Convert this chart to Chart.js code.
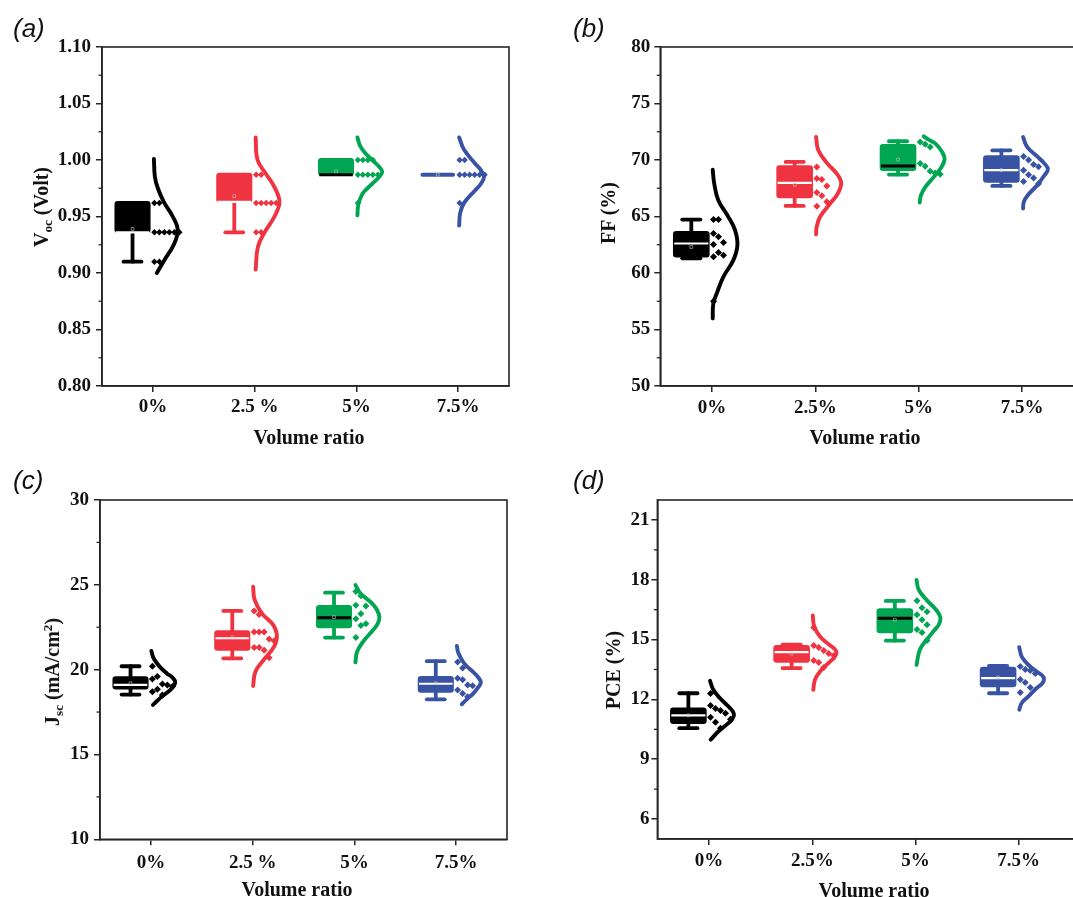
<!DOCTYPE html>
<html>
<head>
<meta charset="utf-8">
<script src="https://cdn.jsdelivr.net/npm/chart.js@4.4.1/dist/chart.umd.min.js"></script>
<style>
html,body{margin:0;padding:0;background:#fff;overflow:hidden;width:1073px;height:897px;}
.panel{position:absolute;}
.lbl{position:absolute;font:italic 26px 'Liberation Sans',Arial,sans-serif;line-height:1;color:#111;white-space:nowrap;}
.xt{position:absolute;font:bold 20px 'Liberation Serif','Times New Roman',serif;line-height:1;transform:translateX(-50%);white-space:nowrap;color:#111;}
.yt{position:absolute;font:bold 20px 'Liberation Serif','Times New Roman',serif;line-height:1;white-space:nowrap;transform:translate(-50%,-50%) rotate(-90deg);color:#111;}
.yt sub{font-size:0.66em;vertical-align:-0.28em;line-height:0;}
.yt sup{font-size:0.66em;vertical-align:0.5em;line-height:0;}
</style>
</head>
<body>
<div class="panel" style="left:0;top:0;width:540px;height:450px"><canvas id="ca"></canvas></div>
<div class="panel" style="left:540px;top:0;width:545px;height:450px"><canvas id="cb"></canvas></div>
<div class="panel" style="left:0;top:450px;width:540px;height:447px"><canvas id="cc"></canvas></div>
<div class="panel" style="left:540px;top:450px;width:545px;height:447px"><canvas id="cd"></canvas></div>

<div class="lbl" style="left:13px;top:15px">(a)</div>
<div class="lbl" style="left:573px;top:15px">(b)</div>
<div class="lbl" style="left:13px;top:467px">(c)</div>
<div class="lbl" style="left:573px;top:467px">(d)</div>

<div class="xt" style="left:309px;top:427px">Volume ratio</div>
<div class="xt" style="left:865px;top:427px">Volume ratio</div>
<div class="xt" style="left:297px;top:879px">Volume ratio</div>
<div class="xt" style="left:874px;top:880px">Volume ratio</div>

<div class="yt" style="left:41px;top:207px">V<sub>oc</sub> (Volt)</div>
<div class="yt" style="left:608px;top:213px">FF (%)</div>
<div class="yt" style="left:52px;top:672px">J<sub>sc</sub> (mA/cm<sup>2</sup>)</div>
<div class="yt" style="left:613px;top:670px">PCE (%)</div>

<script>
// ---------------- DATA ----------------
const categoriesAC = ['0%', '2.5 %', '5%', '7.5%'];
const categoriesBD = ['0%', '2.5%', '5%', '7.5%'];

// box stats per group: [min, Q1, median, Q3, max, mean]
// (a) Voc
const vocRange = [0.80, 1.10];
const vocTicks = [0.80, 0.85, 0.90, 0.95, 1.00, 1.05, 1.10];
const vocMinorTicks = [0.825, 0.875, 0.925, 0.975, 1.025, 1.075];
const vocBox = [
  [0.910, 0.936, 0.936, 0.963, 0.963, 0.939],
  [0.936, 0.963, 0.963, 0.988, 0.988, 0.968],
  [0.987, 0.987, 0.987, 1.001, 1.001, 0.990],
  [0.987, 0.987, 0.987, 0.987, 0.987, 0.987]
];
const vocPoints = [
  [0.962, 0.962, 0.936, 0.936, 0.936, 0.936, 0.936, 0.936, 0.910, 0.910],
  [0.987, 0.987, 0.962, 0.962, 0.962, 0.962, 0.962, 0.936, 0.936],
  [1.000, 1.000, 1.000, 1.000, 0.987, 0.987, 0.987, 0.987, 0.987, 0.962],
  [1.000, 1.000, 0.987, 0.987, 0.987, 0.987, 0.987, 0.987, 0.962]
];
const vocCurveY = [
  [1.001, 0.985, 0.975, 0.963, 0.950, 0.938, 0.925, 0.912, 0.900],
  [1.020, 1.000, 0.987, 0.976, 0.963, 0.950, 0.936, 0.923, 0.903],
  [1.020, 1.012, 1.005, 1.000, 0.994, 0.9895, 0.985, 0.979, 0.974, 0.970, 0.961, 0.951],
  [1.020, 1.009, 0.997, 0.991, 0.985, 0.979, 0.973, 0.962, 0.953, 0.942]
];
const vocCurveW = [
  [0.010, 0.020, 0.049, 0.107, 0.195, 0.244, 0.205, 0.117, 0.039],
  [0.010, 0.029, 0.117, 0.195, 0.244, 0.195, 0.098, 0.032, 0.010],
  [0.010, 0.039, 0.098, 0.156, 0.224, 0.254, 0.224, 0.156, 0.098, 0.059, 0.020, 0.010],
  [0.010, 0.059, 0.166, 0.224, 0.254, 0.224, 0.166, 0.059, 0.020, 0.010]
];

// (b) FF
const ffRange = [50, 80];
const ffTicks = [50, 55, 60, 65, 70, 75, 80];
const ffMinorTicks = [52.5, 57.5, 62.5, 67.5, 72.5, 77.5];
const ffBox = [
  [61.30, 61.43, 62.61, 63.64, 64.73, 62.3],
  [65.94, 66.68, 67.98, 69.48, 69.83, 67.8],
  [68.71, 69.10, 69.48, 71.36, 71.66, 70.04],
  [67.71, 68.06, 69.10, 70.36, 70.86, 69.1]
];
const ffPoints = [
  [64.73, 64.73, 63.50, 63.20, 62.70, 62.52, 61.82, 61.58, 61.43, 57.50],
  [69.39, 68.36, 68.27, 67.71, 67.12, 66.83, 66.30, 65.91],
  [71.60, 71.40, 71.15, 69.70, 69.45, 69.00, 68.85, 68.75],
  [70.30, 70.00, 69.60, 69.40, 69.10, 68.70, 68.40, 68.10, 67.90]
];
const ffCurveY = [
  [69.15, 67.9, 66.44, 64.97, 63.79, 62.46, 61.14, 59.66, 58.19, 57.3, 55.98],
  [72.04, 70.86, 69.68, 68.80, 67.98, 67.03, 66.15, 64.97, 64.09, 63.41],
  [72.1, 71.8, 71.45, 70.72, 70.04, 69.24, 68.5, 67.62, 66.88, 66.24],
  [72.04, 71.16, 70.27, 69.68, 69.18, 68.65, 67.77, 66.88, 66.3, 65.71]
];
const ffCurveW = [
  [0.007, 0.022, 0.061, 0.158, 0.223, 0.246, 0.207, 0.110, 0.046, 0.013, 0.007],
  [0.007, 0.029, 0.117, 0.207, 0.250, 0.217, 0.143, 0.046, 0.013, 0.007],
  [0.049, 0.097, 0.162, 0.226, 0.250, 0.211, 0.146, 0.065, 0.022, 0.010],
  [0.010, 0.049, 0.152, 0.217, 0.250, 0.217, 0.146, 0.055, 0.017, 0.010]
];

// (c) Jsc
const jscRange = [10, 30];
const jscTicks = [10, 15, 20, 25, 30];
const jscMinorTicks = [12.5, 17.5, 22.5, 27.5];
const jscBox = [
  [18.53, 18.88, 19.10, 19.57, 20.20, 19.2],
  [20.67, 21.16, 21.85, 22.28, 23.46, 21.9],
  [21.89, 22.48, 23.06, 23.77, 24.54, 23.1],
  [18.25, 18.68, 19.17, 19.58, 20.50, 19.2]
];
const jscPoints = [
  [20.20, 19.60, 19.45, 19.15, 19.10, 19.00, 18.85, 18.70, 18.50],
  [23.45, 23.25, 22.22, 22.22, 22.22, 21.80, 21.70, 21.30, 21.30, 21.15, 20.70],
  [24.60, 24.35, 23.80, 23.75, 23.30, 23.00, 22.70, 22.60, 21.90],
  [20.45, 20.10, 19.50, 19.40, 19.10, 19.05, 18.80, 18.60, 18.40]
];
const jscCurveY = [
  [21.1, 20.67, 20.18, 19.78, 19.55, 19.29, 19.05, 18.8, 18.41, 18.11, 17.92],
  [24.89, 24.11, 23.32, 22.73, 22.35, 21.95, 21.55, 21.16, 20.57, 19.88, 19.04],
  [24.99, 24.5, 23.91, 23.5, 23.08, 22.7, 22.34, 21.65, 21.06, 20.43],
  [21.4, 20.96, 20.37, 19.88, 19.55, 19.25, 18.95, 18.6, 18.25, 17.96]
];
const jscCurveW = [
  [0.005, 0.027, 0.086, 0.157, 0.211, 0.239, 0.226, 0.190, 0.108, 0.052, 0.020],
  [0.005, 0.020, 0.091, 0.190, 0.226, 0.239, 0.226, 0.190, 0.108, 0.027, 0.005],
  [0.010, 0.059, 0.174, 0.224, 0.246, 0.228, 0.184, 0.086, 0.027, 0.010],
  [0.007, 0.023, 0.079, 0.164, 0.216, 0.243, 0.216, 0.170, 0.105, 0.056]
];

// (d) PCE
const pceRange = [5, 22];
const pceTicks = [6, 9, 12, 15, 18, 21];
const pceMinorTicks = [7.5, 10.5, 13.5, 16.5, 19.5];
const pceBox = [
  [10.56, 10.81, 11.20, 11.56, 12.31, 11.2],
  [13.57, 13.88, 14.37, 14.69, 14.75, 14.3],
  [14.95, 15.35, 16.07, 16.54, 16.94, 16.0],
  [12.31, 12.65, 13.07, 13.60, 13.68, 13.1]
];
const pcePoints = [
  [12.30, 11.70, 11.55, 11.45, 11.30, 11.10, 11.00, 10.85, 10.55],
  [15.60, 14.70, 14.60, 14.45, 14.30, 14.20, 13.95, 13.85, 13.60],
  [16.95, 16.60, 16.40, 16.25, 16.00, 15.75, 15.50, 15.35, 14.95],
  [13.65, 13.50, 13.45, 13.30, 13.00, 12.85, 12.60, 12.35]
];
const pceCurveY = [
  [12.93, 12.48, 12.06, 11.65, 11.45, 11.23, 11.0, 10.81, 10.39, 9.98],
  [16.21, 15.66, 15.15, 14.74, 14.55, 14.35, 14.1, 13.9, 13.4, 12.98, 12.48],
  [17.99, 17.49, 16.99, 16.57, 16.3, 16.04, 15.75, 15.49, 14.99, 14.49, 13.73],
  [14.62, 14.15, 13.73, 13.4, 13.2, 13.02, 12.8, 12.57, 12.15, 11.82, 11.48]
];
const pceCurveW = [
  [0.010, 0.042, 0.107, 0.187, 0.223, 0.242, 0.223, 0.187, 0.090, 0.016],
  [0.005, 0.019, 0.075, 0.165, 0.213, 0.235, 0.213, 0.172, 0.075, 0.026, 0.010],
  [0.010, 0.032, 0.107, 0.187, 0.226, 0.242, 0.226, 0.187, 0.107, 0.042, 0.010],
  [0.005, 0.029, 0.094, 0.174, 0.228, 0.245, 0.228, 0.174, 0.094, 0.029, 0.005]
];

// ---------------- STYLE ----------------
const groupColors = ['#000000', '#EF3340', '#00A651', '#3953A4'];
const medianColors = ['#ffffff', '#ffffff', '#000000', '#ffffff'];
const BOX_OFFSET = -0.2, BOX_HALF = 0.17, CAP_HALF = 0.088;
const SWARM_START = 1.5, SWARM_STEP = 5, SWARM_THRESH = 11;
const axisColor = '#262626';
const tickFont = {family: "'Liberation Serif','Times New Roman',serif", size: 19, weight: 'bold'};

function boxPlugin(stats) {
  return {
    id: 'boxes',
    beforeDatasetsDraw(chart) {
      const {ctx, scales: {x, y}} = chart;
      stats.forEach((s, i) => {
        const c = i + 1;
        const [mn, q1, med, q3, mx] = s;
        const xc = x.getPixelForValue(c + BOX_OFFSET);
        const hw = x.getPixelForValue(c + BOX_OFFSET + BOX_HALF) - xc;
        const cw = x.getPixelForValue(c + BOX_OFFSET + CAP_HALF) - xc;
        const col = groupColors[i];
        const yq1 = y.getPixelForValue(q1), yq3 = y.getPixelForValue(q3);
        ctx.save();
        ctx.strokeStyle = col; ctx.fillStyle = col;
        ctx.lineCap = 'round';
        ctx.lineWidth = 3.8;
        if (mx > q3) {
          const ym = y.getPixelForValue(mx);
          ctx.beginPath(); ctx.moveTo(xc, yq3); ctx.lineTo(xc, ym); ctx.stroke();
          ctx.beginPath(); ctx.moveTo(xc - cw, ym); ctx.lineTo(xc + cw, ym); ctx.stroke();
        }
        if (mn < q1) {
          const ym = y.getPixelForValue(mn);
          ctx.beginPath(); ctx.moveTo(xc, yq1); ctx.lineTo(xc, ym); ctx.stroke();
          ctx.beginPath(); ctx.moveTo(xc - cw, ym); ctx.lineTo(xc + cw, ym); ctx.stroke();
        }
        const h = yq1 - yq3;
        if (h < 2) {
          ctx.lineWidth = 4;
          ctx.beginPath(); ctx.moveTo(xc - hw + 2, yq1); ctx.lineTo(xc + hw - 2, yq1); ctx.stroke();
        } else {
          ctx.lineWidth = 1.5; ctx.lineJoin = 'round';
          ctx.beginPath();
          if (ctx.roundRect) ctx.roundRect(xc - hw, yq3, 2 * hw, h, 2.5); else ctx.rect(xc - hw, yq3, 2 * hw, h);
          ctx.fill(); ctx.stroke();
          const ymed = y.getPixelForValue(med);
          ctx.strokeStyle = medianColors[i];
          ctx.lineCap = 'butt';
          ctx.lineWidth = medianColors[i] === '#000000' ? 3 : 2.2;
          ctx.beginPath(); ctx.moveTo(xc - hw + 0.5, ymed); ctx.lineTo(xc + hw - 0.5, ymed); ctx.stroke();
        }
        ctx.restore();
      });
    }
  };
}

function framePlugin(minorTicks) {
  return {
    id: 'frame',
    afterDraw(chart) {
      const {ctx, chartArea: a, scales: {y}} = chart;
      ctx.save();
      ctx.strokeStyle = axisColor; ctx.lineWidth = 1.6;
      ctx.strokeRect(a.left, a.top, a.right - a.left, a.bottom - a.top);
      ctx.lineWidth = 1.3;
      minorTicks.forEach(v => {
        const py = y.getPixelForValue(v);
        ctx.beginPath(); ctx.moveTo(a.left - 3.5, py); ctx.lineTo(a.left, py); ctx.stroke();
      });
      ctx.restore();
    }
  };
}

function makePanel(p) {
  const datasets = [];
  p.points.forEach((vals, i) => {
    datasets.push({
      type: 'scatter', swarmCat: i + 1, swarmVals: vals,
      data: vals.map(v => ({x: i + 1, y: v})),
      pointStyle: 'rectRot', pointRadius: p.pointR, pointHoverRadius: p.pointR,
      backgroundColor: groupColors[i], borderWidth: 0
    });
  });
  p.curveY.forEach((vals, i) => {
    datasets.push({
      type: 'scatter', showLine: true,
      data: vals.map((v, k) => ({x: i + 1 + p.curveW[i][k], y: v})),
      borderColor: groupColors[i], borderWidth: 3.9, pointRadius: 0, tension: 0.4,
      borderCapStyle: 'round', borderJoinStyle: 'round', fill: false
    });
  });
  datasets.unshift({
    type: 'scatter',
    data: p.box.map((s, i) => ({x: i + 1 + BOX_OFFSET, y: s[5]})),
    pointStyle: 'rect', pointRadius: 2, backgroundColor: 'rgba(0,0,0,0)',
    borderColor: 'rgba(190,190,190,0.8)', borderWidth: 0.8
  });
  const grid = {display: true, drawOnChartArea: false, drawTicks: true, tickLength: 6, color: axisColor, lineWidth: 1.5};
  const chart = new Chart(document.getElementById(p.id), {
    type: 'scatter',
    data: {datasets},
    options: {
      responsive: true, maintainAspectRatio: false, animation: false,
      layout: {padding: {top: p.padTop, right: p.padRight, left: 0, bottom: 0}},
      plugins: {legend: {display: false}, tooltip: {enabled: false}},
      scales: {
        x: {
          type: 'linear', min: 0.5, max: p.xMax,
          afterBuildTicks: s => { s.ticks = [1, 2, 3, 4].map(v => ({value: v})); },
          afterFit: s => { s.height = p.xH; },
          grid, border: {display: true, color: axisColor, width: 1.6},
          ticks: {callback: v => p.cats[v - 1], font: tickFont, color: '#111', padding: p.xPad, maxRotation: 0, autoSkip: false}
        },
        y: {
          type: 'linear', min: p.range[0], max: p.range[1],
          afterBuildTicks: s => { s.ticks = p.ticks.map(v => ({value: v})); },
          afterFit: s => { s.width = p.yW; },
          grid, border: {display: true, color: axisColor, width: 1.6},
          ticks: {callback: v => p.fmt(v), font: tickFont, color: '#111', padding: p.yPad, autoSkip: false}
        }
      }
    },
    plugins: [boxPlugin(p.box), framePlugin(p.minor)]
  });
  // beeswarm layout of the data points, computed through the chart's scales
  const xs = chart.scales.x, ys = chart.scales.y;
  chart.data.datasets.forEach(ds => {
    if (!ds.swarmVals) return;
    const x0 = xs.getPixelForValue(ds.swarmCat);
    const placed = [];
    ds.data = ds.swarmVals.map(v => {
      const py = ys.getPixelForValue(v);
      let slot = 0;
      while (placed.some(q => q.slot === slot && Math.abs(q.py - py) < SWARM_THRESH)) slot++;
      placed.push({slot, py});
      return {x: xs.getValueForPixel(x0 + SWARM_START + slot * SWARM_STEP), y: v};
    });
  });
  chart.update('none');
  return chart;
}

makePanel({id: 'ca', cats: categoriesAC, range: vocRange, ticks: vocTicks, minor: vocMinorTicks,
  box: vocBox, points: vocPoints, curveY: vocCurveY, curveW: vocCurveW, fmt: v => v.toFixed(2),
  xMax: 4.5, yW: 102, xH: 64, padTop: 47, padRight: 31, xPad: 4, yPad: 5, pointR: 3.2});
makePanel({id: 'cb', cats: categoriesBD, range: ffRange, ticks: ffTicks, minor: ffMinorTicks,
  box: ffBox, points: ffPoints, curveY: ffCurveY, curveW: ffCurveW, fmt: v => String(v),
  xMax: 4.55, yW: 120.3, xH: 64, padTop: 47, padRight: 6.1, xPad: 5, yPad: 4, pointR: 3.5});
makePanel({id: 'cc', cats: categoriesAC, range: jscRange, ticks: jscTicks, minor: jscMinorTicks,
  box: jscBox, points: jscPoints, curveY: jscCurveY, curveW: jscCurveW, fmt: v => String(v),
  xMax: 4.5, yW: 100, xH: 57.7, padTop: 50, padRight: 33, xPad: 6, yPad: 5, pointR: 3.5});
makePanel({id: 'cd', cats: categoriesBD, range: pceRange, ticks: pceTicks, minor: pceMinorTicks,
  box: pceBox, points: pcePoints, curveY: pceCurveY, curveW: pceCurveW, fmt: v => String(v),
  xMax: 4.58, yW: 117.4, xH: 58, padTop: 50, padRight: 6.4, xPad: 5, yPad: 2, pointR: 3.5});
</script>
</body>
</html>
